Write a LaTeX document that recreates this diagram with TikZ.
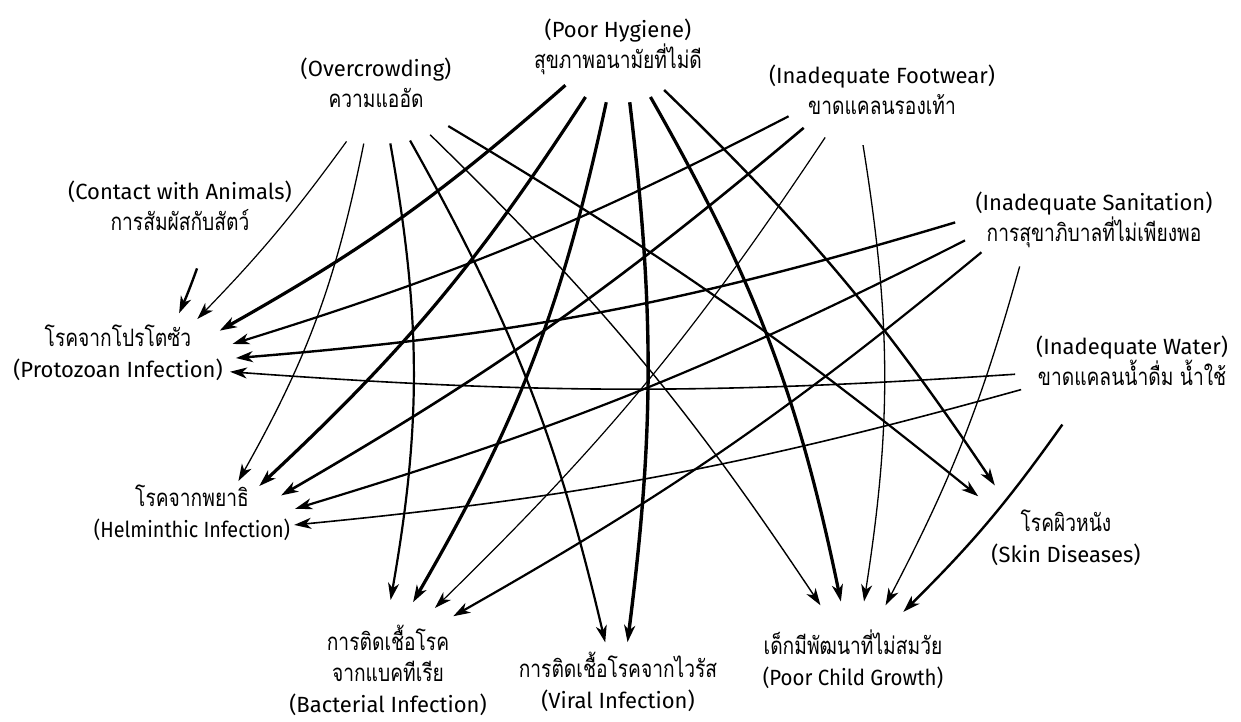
\documentclass[tikz,border=0pt]{standalone}
\usepackage{fontspec}
\newfontfamily\thaifont[Script=Thai]{Loma}
\newfontfamily\latinfont{Fira Sans}
\newcommand\thx[1]{\scalebox{1}[1.25]{\thaifont\fontsize{19.2}{24}\selectfont #1}}
\newcommand\enx{\latinfont\fontsize{22}{24}\selectfont}
\newcommand\enn[2]{\scalebox{#1}[1]{\enx #2}}
\usetikzlibrary{arrows.meta,shapes.geometric}
\newcommand\twoline[2]{\raisebox{-21.5pt}[0pt][0pt]{\makebox[0pt]{\vbox{\lineskiplimit=-\maxdimen\baselineskip=31pt\halign{\hfil##\hfil\cr#1\cr#2\cr}}}}}
\newcommand\threeline[3]{\raisebox{-37pt}[0pt][0pt]{\makebox[0pt]{\vbox{\lineskiplimit=-\maxdimen\baselineskip=31pt\halign{\hfil##\hfil\cr#1\cr#2\cr#3\cr}}}}}
\tikzset{
  lab/.style={ellipse, inner sep=0pt, outer sep=0pt, text=black},
  conn/.style={-{Stealth[length=17pt,width=11pt,inset=5pt]}, line width=#1pt, draw=black}
}
\begin{document}
\begin{tikzpicture}[x=1pt,y=-1pt]
\useasboundingbox (0,0) rectangle (1241,722);
% sources
\node[lab, minimum width=144pt, minimum height=112pt] (PH) at (618,47) {\twoline{\enx (Poor Hygiene)}{\thx{สุขภาพอนามัยที่ไม่ดี}}};
\node[lab, minimum width=200pt, minimum height=116pt] (OC) at (376,86) {\twoline{\enx (Overcrowding)}{\thx{ความแออัด}}};
\node[lab, minimum width=208pt, minimum height=106pt] (FW) at (882,93) {\twoline{\enx (Inadequate Footwear)}{\thx{ขาดแคลนรองเท้า}}};
\node[lab, minimum width=278pt, minimum height=110pt] (SN) at (1094,220) {\twoline{\enx (Inadequate Sanitation)}{\thx{การสุขาภิบาลที่ไม่เพียงพอ}}};
\node[lab, minimum width=240pt, minimum height=120pt] (CA) at (180,209) {\twoline{\enx (Contact with Animals)}{\thx{การสัมผัสกับสัตว์}}};
\node[lab, minimum width=236pt, minimum height=150pt] (WT) at (1132,364) {\twoline{\enx (Inadequate Water)}{\thx{ขาดแคลนน้ำดื่ม น้ำใช้}}};
% targets
\node[lab, minimum width=236pt, minimum height=100pt] (PZ) at (118,356) {\twoline{\thx{โรคจากโปรโตซัว}}{\enx (Protozoan Infection)}};
\node[lab, minimum width=210pt, minimum height=78pt] (HM) at (192,516) {\twoline{\thx{โรคจากพยาธิ}}{\enn{0.9}{(Helminthic Infection)}}};
\node[lab, minimum width=210pt, minimum height=150pt] (BC) at (388,675) {\threeline{\thx{การติดเชื้อโรค}}{\thx{จากแบคทีเรีย}}{\enx (Bacterial Infection)}};
\node[lab, minimum width=200pt, minimum height=90pt] (VR) at (618,687) {\twoline{\thx{การติดเชื้อโรคจากไวรัส}}{\enx (Viral Infection)}};
\node[lab, minimum width=180pt, minimum height=126pt] (CG) at (853,664) {\twoline{\thx{เด็กมีพัฒนาที่ไม่สมวัย}}{\enn{0.93}{(Poor Child Growth)}}};
\node[lab, minimum width=224pt, minimum height=144pt] (SK) at (1066,541) {\twoline{\thx{โรคผิวหนัง}}{\enx (Skin Diseases)}};
% connectors
\draw[conn=2.4] (CA.286) to[bend left=2] (PZ.35);
\draw[conn=1.2] (OC.242) to[bend left=4] (PZ.25);
\draw[conn=1.3] (OC.258) to[bend left=9] (HM.37);
\draw[conn=2.2] (OC.284) to[bend left=10] (BC.88);
\draw[conn=2.2] (OC.302) to[bend left=8] (VR.106);
\draw[conn=1.4] (OC.318) to[bend left=6] (CG.119);
\draw[conn=2.2] (OC.331) to[bend left=4] (SK.153);
\draw[conn=3.2] (PH.216) to[bend left=6] (PZ.14);
\draw[conn=3.2] (PH.237) to[bend left=7] (HM.24);
\draw[conn=3.2] (PH.258) to[bend left=9] (BC.71);
\draw[conn=3.4] (PH.282) to[bend left=7] (VR.78);
\draw[conn=3.2] (PH.303) to[bend left=9] (CG.101);
\draw[conn=2.4] (PH.317) to[bend left=6] (SK.142);
\draw[conn=2.2] (FW.194) to[bend left=5] (PZ.6);
\draw[conn=2.6] (FW.204) to[bend left=5] (HM.13);
\draw[conn=1.2] (FW.218) to[bend left=6] (BC.55);
\draw[conn=1.3] (FW.250) to[bend left=9] (CG.80);
\draw[conn=2.4] (SN.181) to[bend left=6] (PZ.359);
\draw[conn=2.2] (SN.189) to[bend left=5] (HM.4);
\draw[conn=2.2] (SN.196) to[bend left=5] (BC.42);
\draw[conn=1.3] (SN.212) to[bend left=6] (CG.61);
\draw[conn=1.6] (WT.185) to[bend left=4] (PZ.352);
\draw[conn=1.6] (WT.193) to[bend left=5] (HM.355);
\draw[conn=2.4] (WT.221) to[bend left=5] (CG.46);
\end{tikzpicture}
\end{document}
